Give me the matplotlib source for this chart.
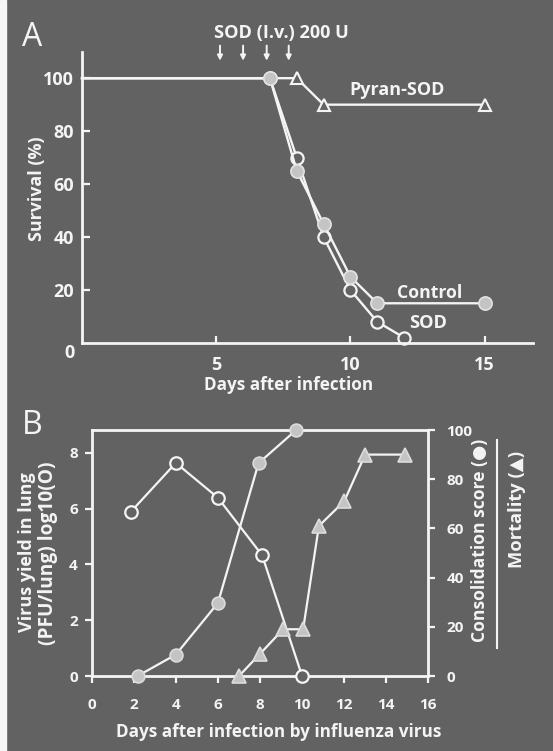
import matplotlib
matplotlib.use("Agg")
import matplotlib.pyplot as plt
from matplotlib.lines import Line2D

# ---------------- data ----------------
# Panel A: survival (%)
ctrl_days = [0, 7, 8, 9, 10, 11, 15]
ctrl_surv = [100, 100, 65, 45, 25, 15, 15]
sod_days = [0, 7, 8, 9, 10, 11, 12]
sod_surv = [100, 100, 70, 40, 20, 8, 2]
pyran_days = [0, 8, 9, 15]
pyran_surv = [100, 100, 90, 90]
arrow_days = [5.14, 6.0, 6.88, 7.7]
a_xticks = [5, 10, 15]
a_yticks = [20, 40, 60, 80, 100]

# Panel B
virus_days = [1.85, 4, 6, 8.1, 10]
virus_yield = [5.88, 7.64, 6.39, 4.33, 0]
consol_days = [2.18, 4, 6, 7.93, 9.72]
consol_score = [0, 8.7, 29.7, 86.5, 100]
mort_days = [7, 8, 9.1, 10.05, 10.8, 12, 13, 14.9]
mort_pct = [0, 9, 19, 19, 61, 71, 90, 90]
b_xticks = [0, 2, 4, 6, 8, 10, 12, 14, 16]
b_lyticks = [0, 2, 4, 6, 8]
b_ryticks = [0, 20, 40, 60, 80, 100]

# ---------------- style ----------------
W, H = 553, 751
BG = "#626262"
FG = "#f4f4f4"
FILL = "#c4c4c4"
FAM = ["Open Sans", "DejaVu Sans"]
plt.rcParams["font.family"] = FAM
plt.rcParams["font.weight"] = "bold"

fig = plt.figure(figsize=(W / 100, H / 100), dpi=100, facecolor=BG)
fig.patches.append(plt.Rectangle((0, 0), 6 / W, 1, transform=fig.transFigure,
                                 color="#f6f6f6", zorder=0))
renderer = fig.canvas.get_renderer()

def fx(px):
    return px / W

def fy(py):
    return 1 - py / H

def fit(txt, target_px):
    """Scale a text's font so its long side spans target_px pixels."""
    bb = txt.get_window_extent(renderer=renderer)
    length = bb.height if txt.get_rotation() == 90 else bb.width
    txt.set_fontsize(txt.get_fontsize() * target_px / length)
    return txt

def style_axis(ax, spines):
    ax.set_facecolor("none")
    for s in ["left", "right", "top", "bottom"]:
        ax.spines[s].set_visible(s in spines)
        ax.spines[s].set_color(FG)
        ax.spines[s].set_linewidth(2)
    ax.tick_params(colors=FG, labelcolor=FG, width=1.6)

# ---------------- Panel A ----------------
axA = fig.add_axes([fx(82), fy(343), (533 - 82) / W, (343 - 51.7) / H])
style_axis(axA, ["left", "bottom"])
axA.set_xlim(0, 16.8)
axA.set_ylim(0, 110)
lw = 1.7
axA.plot(pyran_days, pyran_surv, color=FG, lw=lw, marker="^", ms=9,
         mfc=BG, mec=FG, mew=1.5, markevery=list(range(1, len(pyran_days))), clip_on=False)
axA.plot(sod_days, sod_surv, color=FG, lw=lw, marker="o", ms=8.8,
         mfc=BG, mec=FG, mew=1.6, markevery=list(range(1, len(sod_days))), clip_on=False)
axA.plot(ctrl_days, ctrl_surv, color=FG, lw=lw, marker="o", ms=9.5,
         mfc=FILL, mec="#e2e2e2", mew=1.2, markevery=list(range(1, len(ctrl_days))), clip_on=False)

axA.set_xticks(a_xticks)
axA.set_xticklabels([str(t) for t in a_xticks], fontsize=13, fontweight="bold")
axA.tick_params(axis="x", direction="in", length=5, pad=9)
axA.set_yticks(a_yticks)
axA.set_yticklabels([str(t) for t in a_yticks], fontsize=13, fontweight="bold")
axA.tick_params(axis="y", direction="in", length=5.5, pad=6)
axA.text(-0.45, -3.8, "0", color=FG, fontsize=13, fontweight="bold",
         ha="center", va="center", clip_on=False)
fit(fig.text(fx(288.5), fy(385), "Days after infection", color=FG, fontsize=12,
             fontweight="bold", ha="center", va="center"), 169)
fit(fig.text(fx(37), fy(188.5), "Survival (%)", color=FG, fontsize=12,
             fontweight="bold", rotation=90, ha="center", va="center"), 104)

fit(axA.text(11.72, 95.5, "Pyran-SOD", color=FG, fontsize=12, fontweight="bold",
             ha="center", va="center"), 95)
fit(axA.text(12.96, 19.0, "Control", color=FG, fontsize=12, fontweight="bold",
             ha="center", va="center"), 65)
fit(axA.text(12.9, 7.4, "SOD", color=FG, fontsize=12, fontweight="bold",
             ha="center", va="center"), 38)
fit(axA.text(7.43, 117, "SOD (I.v.) 200 U", color=FG, fontsize=12, fontweight="bold",
             ha="center", va="center", clip_on=False), 135)
for d in arrow_days:
    axA.annotate("", xy=(d, 106.6), xytext=(d, 112.3), annotation_clip=False,
                 arrowprops=dict(arrowstyle="-|>,head_length=0.3,head_width=0.15",
                                 color=FG, lw=1.4, shrinkA=0, shrinkB=0))
fig.text(fx(32.6), fy(37), "A", color=FG, fontsize=23, fontweight="normal",
         ha="center", va="center")

# ---------------- Panel B ----------------
axB = fig.add_axes([fx(91.7), fy(676), (428.3 - 91.7) / W, (676 - 430) / H])
style_axis(axB, ["left", "right", "top", "bottom"])
axB.set_xlim(0, 16)
axB.set_ylim(0, 8.82)
axB.set_xticks(b_xticks)
axB.set_xticklabels([str(t) for t in b_xticks], fontsize=11, fontweight="bold")
axB.set_yticks(b_lyticks)
axB.set_yticklabels([str(t) for t in b_lyticks], fontsize=11, fontweight="bold")
axB.tick_params(axis="both", direction="out", length=5, pad=5)
axB.tick_params(axis="x", pad=11)

axR = axB.twinx()
axR.set_ylim(0, 100)
for s in axR.spines.values():
    s.set_visible(False)
axR.set_yticks(b_ryticks)
axR.set_yticklabels([str(t) for t in b_ryticks], fontsize=11, fontweight="bold")
axR.tick_params(axis="y", colors=FG, labelcolor=FG, width=1.6, direction="out", length=5, pad=8)

lwb = 1.6
axB.plot(virus_days, virus_yield, color=FG, lw=lwb, marker="o", ms=9,
         mfc=BG, mec=FG, mew=1.6, clip_on=False, zorder=4)
axR.plot(consol_days, consol_score, color=FG, lw=lwb, marker="o", ms=9.2,
         mfc=FILL, mec="#dcdcdc", mew=1.2, clip_on=False, zorder=4)
axR.plot(mort_days, mort_pct, color=FG, lw=lwb, marker="^", ms=10.5,
         mfc=FILL, mec="#dcdcdc", mew=1.2, clip_on=False, zorder=4)

fit(fig.text(fx(278.6), fy(732), "Days after infection by influenza virus", color=FG,
             fontsize=12, fontweight="bold", ha="center", va="center"), 326)
fit(fig.text(fx(26.7), fy(552), "Virus yield in lung", color=FG, fontsize=12,
             fontweight="bold", rotation=90, ha="center", va="center"), 160)
fit(fig.text(fx(48.3), fy(553), "(PFU/lung) log10(O)", color=FG, fontsize=12,
             fontweight="bold", rotation=90, ha="center", va="center"), 182)
fit(fig.text(fx(480), fy(540), "Consolidation score (●)", color=FG, fontsize=12,
             fontweight="bold", rotation=90, ha="center", va="center"), 202)
fig.add_artist(Line2D([fx(496.7), fx(496.7)], [fy(440), fy(648)],
                      transform=fig.transFigure, color=FG, lw=1.5))
fit(fig.text(fx(517.5), fy(509), "Mortality (▲)", color=FG, fontsize=12,
             fontweight="bold", rotation=90, ha="center", va="center"), 117)
fig.text(fx(32.5), fy(426), "B", color=FG, fontsize=23, fontweight="normal",
         ha="center", va="center")

fig.savefig("out.png", dpi=100, facecolor=BG)
